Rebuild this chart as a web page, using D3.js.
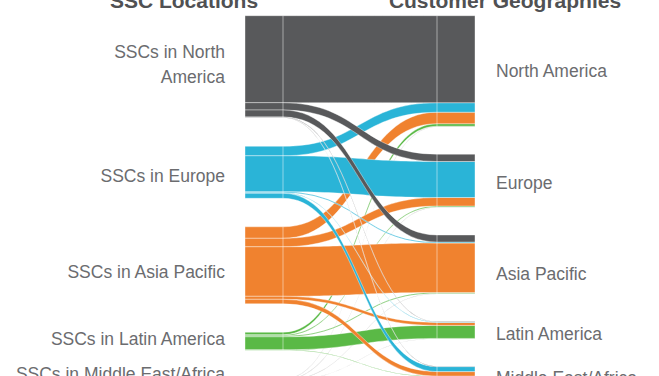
<!DOCTYPE html>
<html>
<head>
<meta charset="utf-8">
<script src="https://cdn.jsdelivr.net/npm/d3@7"></script>
<style>
  html, body { margin: 0; padding: 0; background: #fff; }
  svg { display: block; font-family: Arial, "Liberation Sans", sans-serif; }
</style>
</head>
<body>
<div id="chart"></div>
<script>
// regions, same order on both sides
var regions = ["North America", "Europe", "Asia Pacific", "Latin America", "Middle East/Africa"];
var sourceLabels = [["SSCs in North", "America"], ["SSCs in Europe"], ["SSCs in Asia Pacific"], ["SSCs in Latin America"], ["SSCs in Middle East/Africa"]];
var targetLabels = ["North America", "Europe", "Asia Pacific", "Latin America", "Middle East/Africa"];
var colors = ["#58595b", "#2ab4d7", "#f0822f", "#5ab946", "#b3b3b3"];

// flows, one array per SSC location, one value per customer geography
var fromNorthAmerica = [87, 7.3, 7, 0.4, 0.4];
var fromEurope = [9.5, 36, 1, 0.5, 5];
var fromAsiaPacific = [11.5, 8.5, 49.5, 3, 4.5];
var fromLatinAmerica = [2.5, 1, 1, 13, 0.5];
var fromMiddleEast = [0.5, 0.5, 0.5, 0.3, 8];

var flows = [fromNorthAmerica, fromEurope, fromAsiaPacific, fromLatinAmerica, fromMiddleEast];

var width = 659, height = 376;
var nodeWidth = 38, padLeft = 28.5, padRight = 27.5, topY = 15.7;
// hand placement of the labels relative to node centres, as in the original
var leftLabelDy = [4, 9.5, 13, 4, -4];
var rightLabelDy = [5.5, 8, 15, 9.5, 9];

var svg = d3.select("#chart").append("svg")
    .attr("width", width)
    .attr("height", height);

var total = d3.sum(flows, function (f) { return d3.sum(f); });
var y = d3.scaleLinear().domain([0, total]).range([0, total]);
var x = d3.scaleLinear().domain([0, 1]).range([245, 437]);

// nodes
function stack(sizes, pad) {
  var y0 = topY;
  return sizes.map(function (v, i) {
    var n = { index: i, y0: y0, y1: y0 + y(v) };
    y0 = n.y1 + pad;
    return n;
  });
}
var leftNodes = stack(flows.map(function (f) { return d3.sum(f); }), padLeft);
var rightNodes = stack(regions.map(function (r, j) { return d3.sum(flows, function (f) { return f[j]; }); }), padRight);

// links
var links = [];
flows.forEach(function (f, i) {
  f.forEach(function (v, j) { links.push({ source: i, target: j, value: v }); });
});
var offL = leftNodes.map(function (n) { return n.y0; });
var offR = rightNodes.map(function (n) { return n.y0; });
// source side ordered by target, target side ordered by source
links.forEach(function (l) {
  l.sy0 = offL[l.source]; l.sy1 = l.sy0 + y(l.value); offL[l.source] = l.sy1;
});
d3.sort(links, function (l) { return l.target; }, function (l) { return l.source; }).forEach(function (l) {
  l.ty0 = offR[l.target]; l.ty1 = l.ty0 + y(l.value); offR[l.target] = l.ty1;
});

var xa = x(0), xs = x(0) + nodeWidth, xt = x(1), xb = x(1) + nodeWidth, xm = (xs + xt) / 2;

function ribbon(l) {
  var p = d3.path();
  p.moveTo(xa, l.sy0);
  p.lineTo(xs, l.sy0);
  p.bezierCurveTo(xm, l.sy0, xm, l.ty0, xt, l.ty0);
  p.lineTo(xb, l.ty0);
  p.lineTo(xb, l.ty1);
  p.lineTo(xt, l.ty1);
  p.bezierCurveTo(xm, l.ty1, xm, l.sy1, xs, l.sy1);
  p.lineTo(xa, l.sy1);
  p.closePath();
  return p.toString();
}

// later sources drawn first, North America on top
var drawOrder = d3.sort(links, function (l) { return -l.source; }, function (l) { return l.target; });

svg.append("g")
  .selectAll("path")
  .data(drawOrder)
  .join("path")
    .attr("d", ribbon)
    .attr("fill", function (d) { return colors[d.source]; })
    .attr("stroke", "rgba(255,255,255,0.55)")
    .attr("stroke-width", 0.7);

// separators at node inner edges
var sep = svg.append("g")
    .attr("stroke", "rgba(255,255,255,0.6)")
    .attr("stroke-width", 0.8);
sep.selectAll("line.l")
  .data(leftNodes)
  .join("line")
    .attr("x1", xs).attr("x2", xs)
    .attr("y1", function (d) { return d.y0; })
    .attr("y2", function (d) { return d.y1; });
sep.selectAll("line.r")
  .data(rightNodes)
  .join("line")
    .attr("x1", xt).attr("x2", xt)
    .attr("y1", function (d) { return d.y0; })
    .attr("y2", function (d) { return d.y1; });

// labels
var lineH = 25;
svg.append("g")
    .attr("font-size", 17.5)
    .attr("fill", "#6b6c6f")
    .attr("text-anchor", "end")
  .selectAll("text")
  .data(leftNodes)
  .join("text")
    .attr("x", xa - 20)
    .attr("y", function (d) {
      var lines = sourceLabels[d.index].length;
      return (d.y0 + d.y1) / 2 - (lines - 1) * lineH / 2 + leftLabelDy[d.index];
    })
    .each(function (d) {
      var t = d3.select(this);
      sourceLabels[d.index].forEach(function (s, k) {
        t.append("tspan")
          .attr("x", xa - 20)
          .attr("dy", k === 0 ? 0 : lineH)
          .text(s);
      });
    });

svg.append("g")
    .attr("font-size", 17.5)
    .attr("fill", "#6b6c6f")
  .selectAll("text")
  .data(rightNodes)
  .join("text")
    .attr("x", xb + 21)
    .attr("y", function (d) { return (d.y0 + d.y1) / 2 + rightLabelDy[d.index]; })
    .text(function (d) { return targetLabels[d.index]; });

// column titles
svg.append("g")
    .attr("font-size", 21)
    .attr("font-weight", "bold")
    .attr("fill", "#505153")
    .attr("text-anchor", "middle")
  .selectAll("text")
  .data([["SSC Locations", 184], ["Customer Geographies", 505]])
  .join("text")
    .attr("x", function (d) { return d[1]; })
    .attr("y", 8)
    .text(function (d) { return d[0]; });
</script>
</body>
</html>
